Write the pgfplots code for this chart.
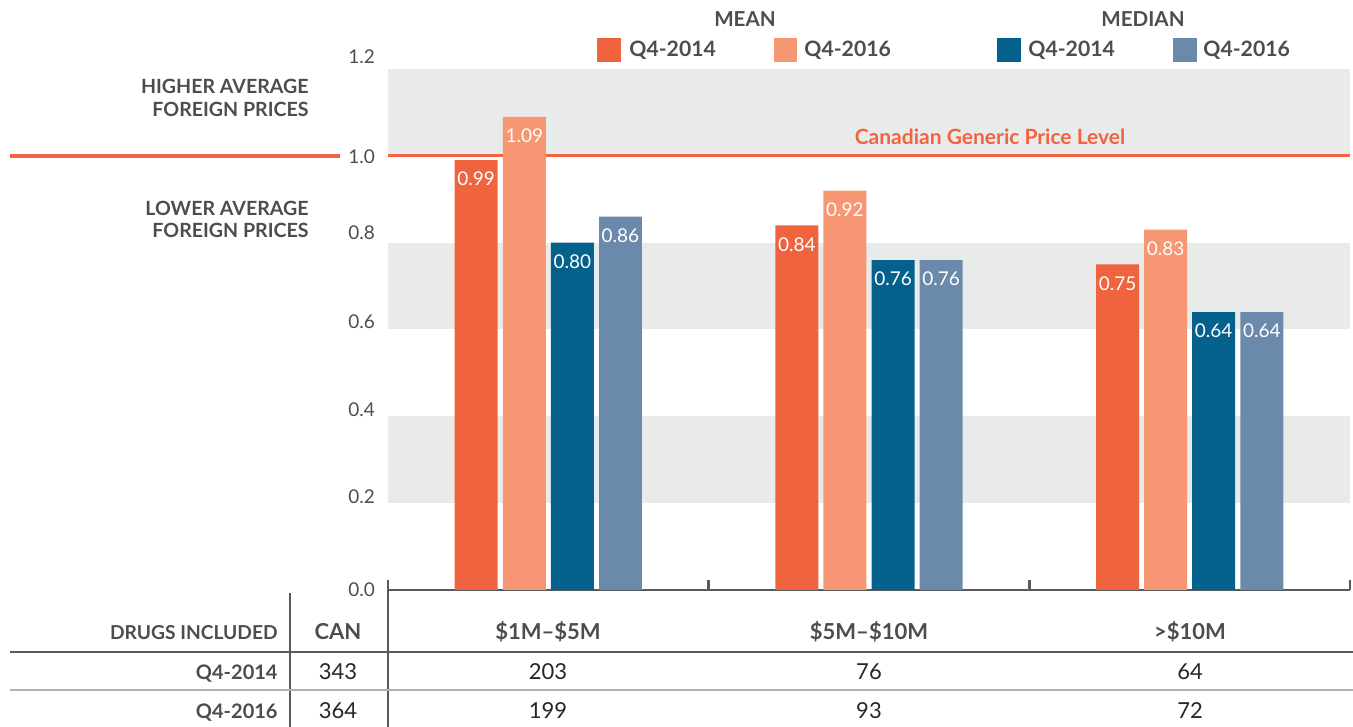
\documentclass[border=0pt]{standalone}
\usepackage{fontspec}
\setmainfont{Lato}
\usepackage{pgfplots}
\pgfplotsset{compat=1.18}

\definecolor{meanA}{HTML}{F0633F}
\definecolor{meanB}{HTML}{F79673}
\definecolor{medA}{HTML}{03618B}
\definecolor{medB}{HTML}{6A89AB}
\definecolor{band}{HTML}{E9EBEA}
\definecolor{txt}{HTML}{4D4D4F}
\definecolor{refline}{HTML}{F26440}
\definecolor{rule}{HTML}{58595B}

\newcommand{\fs}[1]{\fontsize{#1}{#1}\selectfont}
% the reference sets most y labels a little above their gridline
\newcommand{\up}[2]{\raisebox{#1}[\height][\depth]{#2}}

\begin{document}
\begin{tikzpicture}
% 1 px of the reference = 0.5pt
\begin{axis}[
  set layers,
  scale only axis, width=481pt, height=260.5pt,
  at={(0,0)}, anchor=south west,
  xmin=-0.5, xmax=2.5, ymin=0, ymax=1.2,
  ybar, bar width=0.134,
  axis x line*=bottom, axis y line*=left,
  y axis line style={draw=none},
  x axis line style={rule, line width=1.2pt, -},
  xtick={-0.5,0.5,1.5,2.5}, xticklabels={},
  xtick style={rule, line width=1.2pt}, tick align=inside, major tick length=5pt,
  ytick={0,0.2,0.4,0.6,0.8,1.0,1.2}, ytick style={draw=none},
  yticklabels={0.0, \up{3pt}{0.2}, \up{3.5pt}{0.4}, \up{4pt}{0.6}, \up{5pt}{0.8}, \up{-0.5pt}{1.0}, \up{6pt}{1.2}},
  yticklabel style={text=txt, font=\fs{9.5}, anchor=east, xshift=-3pt},
  nodes near coords,
  every node near coord/.append style={text=white, font=\fs{9.5}, anchor=north, yshift=-2.5pt,
    /pgf/number format/.cd, fixed, fixed zerofill, precision=2, assume math mode=true},
]
\begin{pgfonlayer}{axis background}
  \fill[band] (axis cs:-0.5,0.2) rectangle (axis cs:2.5,0.4);
  \fill[band] (axis cs:-0.5,0.6) rectangle (axis cs:2.5,0.8);
  \fill[band] (axis cs:-0.5,1.0) rectangle (axis cs:2.5,1.2);
  \draw[refline, line width=1.6pt] (axis cs:-0.5,1) -- (axis cs:2.5,1);
\end{pgfonlayer}

% mean
\addplot[fill=meanA, draw=none, bar shift=-0.225] coordinates {(0,0.99) (1,0.84) (2,0.75)};
\addplot[fill=meanB, draw=none, bar shift=-0.075] coordinates {(0,1.09) (1,0.92) (2,0.83)};
% median
\addplot[fill=medA, draw=none, bar shift=0.075] coordinates {(0,0.80) (1,0.76) (2,0.64)};
\addplot[fill=medB, draw=none, bar shift=0.225] coordinates {(0,0.86) (1,0.76) (2,0.64)};
\end{axis}

\begin{scope}[x=0.5pt, y=-0.5pt, shift={(-194pt,295pt)}]
  % reference line outside the axis
  \draw[refline, line width=1.6pt] (10,156) -- (340,156);
  \node[refline, font=\bfseries\fs{10.5}, anchor=base, inner sep=0] at (990,145) {Canadian Generic Price Level};

  \node[txt, font=\bfseries\fs{9.8}, anchor=east, align=right, inner sep=0] at (309,98)
    {HIGHER AVERAGE\\[1.5pt]FOREIGN PRICES};
  \node[txt, font=\bfseries\fs{9.8}, anchor=east, align=right, inner sep=0] at (309,219.5)
    {LOWER AVERAGE\\[1.5pt]FOREIGN PRICES};

  % legend
  \node[txt, font=\bfseries\fs{10.3}, anchor=base, inner sep=0] at (745,27) {MEAN};
  \node[txt, font=\bfseries\fs{10.3}, anchor=base, inner sep=0] at (1143,27) {MEDIAN};
  \fill[meanA] (597,38) rectangle (621,62);
  \node[txt, font=\bfseries\fs{10.6}, anchor=base west, inner sep=0] at (629,57) {Q4-2014};
  \fill[meanB] (774,38) rectangle (797,62);
  \node[txt, font=\bfseries\fs{10.6}, anchor=base west, inner sep=0] at (804,57) {Q4-2016};
  \fill[medA] (997,38) rectangle (1021,62);
  \node[txt, font=\bfseries\fs{10.6}, anchor=base west, inner sep=0] at (1028,57) {Q4-2014};
  \fill[medB] (1173,38) rectangle (1197,62);
  \node[txt, font=\bfseries\fs{10.6}, anchor=base west, inner sep=0] at (1203,57) {Q4-2016};

  % table of drugs included
  \draw[rule, line width=1.2pt] (290,593) -- (290,727);
  \draw[rule, line width=1.2pt] (388,590) -- (388,727);
  \draw[rule, line width=1.3pt] (10,652) -- (1353,652);
  \draw[black!30, line width=0.8pt] (10,690) -- (1353,690);

  \node[txt, font=\bfseries\fs{9.6}, anchor=base east, inner sep=0] at (278,640) {DRUGS INCLUDED};
  \node[txt, font=\bfseries\fs{11}, anchor=base, inner sep=0] at (338,640) {CAN};
  \node[txt, font=\bfseries\fs{11}, anchor=base, inner sep=0] at (548,640) {\$1M--\$5M};
  \node[txt, font=\bfseries\fs{11}, anchor=base, inner sep=0] at (869,640) {\$5M--\$10M};
  \node[txt, font=\bfseries\fs{11}, anchor=base, inner sep=0] at (1190,640) {>\$10M};

  \node[txt, font=\bfseries\fs{10}, anchor=base east, inner sep=0] at (278,680) {Q4-2014};
  \node[txt, font=\bfseries\fs{10}, anchor=base east, inner sep=0] at (278,718) {Q4-2016};
  \foreach \x/\a/\b in {338/343/364, 548/203/199, 869/76/93, 1190/64/72} {
    \node[black!85, font=\fs{11}, anchor=base, inner sep=0] at (\x,680) {\a};
    \node[black!85, font=\fs{11}, anchor=base, inner sep=0] at (\x,718) {\b};
  }

  \pgfresetboundingbox
  \path (0,0) rectangle (1353,727);
\end{scope}
\end{tikzpicture}
\end{document}
